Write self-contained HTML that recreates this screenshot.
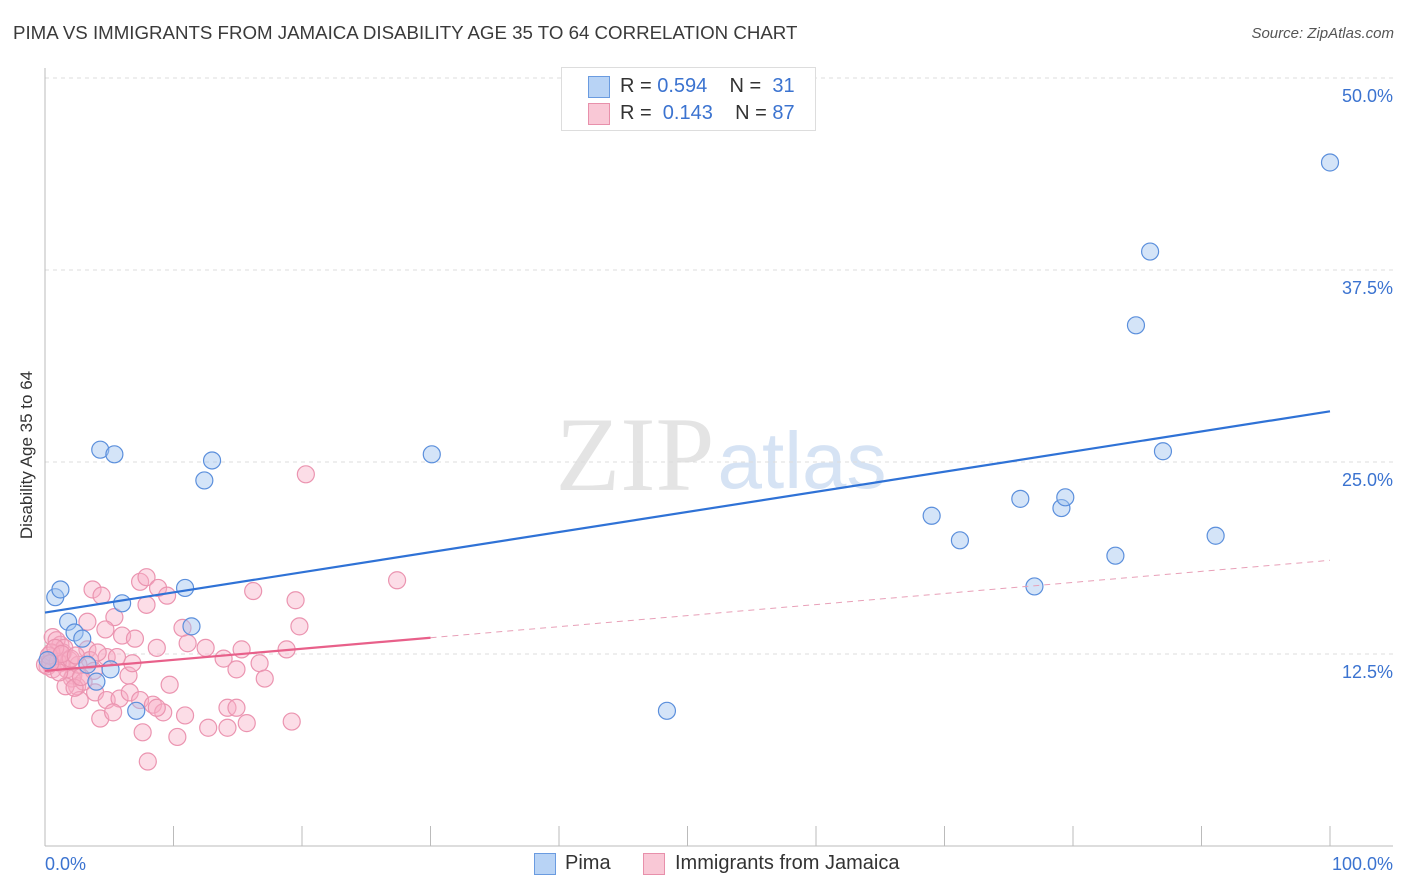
<!DOCTYPE html>
<html><head><meta charset="utf-8"><style>
body{margin:0;background:#fff;font-family:"Liberation Sans",sans-serif;}
#wrap{position:relative;width:1406px;height:892px;overflow:hidden}
.t{position:absolute;white-space:nowrap}
</style></head><body>
<div id="wrap">
<div class="t" style="left:13px;top:22px;font-size:18.7px;color:#3a3a3a">PIMA VS IMMIGRANTS FROM JAMAICA DISABILITY AGE 35 TO 64 CORRELATION CHART</div>
<div class="t" style="right:12px;top:25px;font-size:15px;color:#555;font-style:italic">Source: ZipAtlas.com</div>
<div class="t" style="left:27px;top:455px;font-size:17px;color:#333;transform:translate(-50%,-50%) rotate(-90deg)">Disability Age 35 to 64</div>
<svg id="plot" width="1406" height="892" style="position:absolute;left:0;top:0"></svg>
<div class="t" style="left:561px;top:67px;width:253px;height:62px;border:1px solid #ddd;background:#fff;font-size:20px;color:#333">
 <div style="position:absolute;left:26px;top:8px;width:20px;height:20px;background:#b8d3f5;border:1px solid #6a9be0"></div>
 <div class="t" style="left:58px;top:7px">R = <span style="color:#3b73d0">0.594</span>&nbsp;&nbsp;&nbsp; N = &nbsp;<span style="color:#3b73d0">31</span></div>
 <div style="position:absolute;left:26px;top:35px;width:20px;height:20px;background:#f9c8d6;border:1px solid #e890ab"></div>
 <div class="t" style="left:58px;top:34px">R = &nbsp;<span style="color:#3b73d0">0.143</span>&nbsp;&nbsp;&nbsp; N = <span style="color:#3b73d0">87</span></div>
</div>
<div style="position:absolute;left:534px;top:853px;width:20px;height:20px;background:#b8d3f5;border:1px solid #6a9be0"></div>
<div class="t" style="left:565px;top:852px;font-size:20px;color:#333">Pima</div>
<div style="position:absolute;left:643px;top:853px;width:20px;height:20px;background:#f9c8d6;border:1px solid #e890ab"></div>
<div class="t" style="left:675px;top:852px;font-size:20px;color:#333">Immigrants from Jamaica</div>
</div>
<script>
const yTicks=[12.5,25,37.5,50];
const yTickLabels=["12.5%","25.0%","37.5%","50.0%"];
const xTickLabels=["0.0%","100.0%"];
const pimaX=[0.8,1.2,1.8,2.3,2.9,3.3,4.0,4.3,5.1,5.4,6.0,7.1,10.9,11.4,12.4,13.0,30.1,48.4,69.0,71.2,75.9,77.0,79.1,79.4,83.3,84.9,86.0,87.0,91.1,100,0.2];
const pimaY=[16.2,16.7,14.6,13.9,13.5,11.8,10.7,25.8,11.5,25.5,15.8,8.8,16.8,14.3,23.8,25.1,25.5,8.8,21.5,19.9,22.6,16.9,22.0,22.7,18.9,33.9,38.7,25.7,20.2,44.5,12.1];
const jamX=[3.7,4.4,7.4,7.9,8.8,9.5,7.9,16.2,19.5,19.8,3.3,5.4,4.7,6.0,7.0,10.7,11.1,12.5,8.7,3.3,0.6,1.2,4.8,5.6,15.3,13.9,14.9,16.7,17.1,18.8,9.7,6.5,6.8,2.2,2.5,2.7,3.9,4.8,5.8,6.6,7.4,8.4,9.2,8.7,10.9,4.3,5.3,7.6,8.0,10.3,12.7,14.2,14.2,14.9,15.7,19.2,0.4,0.2,0.6,1.2,1.7,2.1,3.0,3.5,0.6,1.4,20.3,27.4,0.9,1.5,1.9,2.6,0.0,1.6,2.3,0.5,1.0,0.3,2.0,3.8,1.1,0.8,2.8,4.1,1.3,0.4,2.4];
const jamY=[16.7,16.3,17.2,17.5,16.8,16.3,15.7,16.6,16.0,14.3,14.6,14.9,14.1,13.7,13.5,14.2,13.2,12.9,12.9,12.8,13.6,13.1,12.3,12.3,12.8,12.2,11.5,11.9,10.9,12.8,10.5,11.1,11.9,11.1,10.4,9.5,10.0,9.5,9.6,10.0,9.5,9.2,8.7,9.0,8.5,8.3,8.7,7.4,5.5,7.1,7.7,7.7,9.0,9.0,8.0,8.1,12.1,11.7,12.3,11.9,11.5,10.9,10.7,12.1,11.5,12.6,24.2,17.3,13.4,12.9,12.1,11.8,11.8,10.4,10.3,12.6,12.0,12.4,12.2,11.4,11.3,12.9,11.0,12.6,12.5,11.9,12.4];
const pimaTrend=[15.2,28.3];
const jamTrend=[11.4,18.6];
const X0=45,X1=1330,YB=846,YT=78;
const sx=v=>X0+(X1-X0)*v/100;
const sy=v=>YB-(YB-YT)*v/50;
const NS="http://www.w3.org/2000/svg";
const svg=document.getElementById('plot');
function mk(t,a){const e=document.createElementNS(NS,t);for(const k in a)e.setAttribute(k,a[k]);svg.appendChild(e);return e;}
let w=mk('text',{x:635,y:490,'font-size':106,'font-family':'Liberation Serif,serif',fill:'#e4e4e4','text-anchor':'middle'});w.textContent='ZIP';


w=mk('text',{x:802,y:488,'font-size':80,'font-family':'Liberation Sans,sans-serif',fill:'#d6e3f4','text-anchor':'middle'});w.textContent='atlas';


yTicks.forEach((t,i)=>{
 const g=mk('line',{x1:X0,x2:1393,y1:sy(t),y2:sy(t),stroke:'#ddd','stroke-dasharray':'4,4'});
 
 
 const l=mk('text',{x:1393,y:sy(t)+24,'font-size':18,fill:'#3b73d0','text-anchor':'end','font-family':'Liberation Sans,sans-serif'});l.textContent=yTickLabels[i];
 
 
});
let ax=mk('line',{x1:X0,x2:X0,y1:68,y2:YB,stroke:'#bbb'});


ax=mk('line',{x1:X0,x2:1393,y1:YB,y2:YB,stroke:'#bbb'});


for(let i=0;i<=10;i++){const tk=mk('line',{x1:sx(i*10),x2:sx(i*10),y1:826,y2:YB,stroke:'#bbb'});
 
 }
[[0,'start',X0],[1,'end',1393]].forEach(([i,a,x])=>{const l=mk('text',{x:x,y:870,'font-size':18,fill:'#3b73d0','text-anchor':a,'font-family':'Liberation Sans,sans-serif'});l.textContent=xTickLabels[i];
 
 });
function dots(X,Y,fill,stroke,name){X.forEach((x,i)=>{const c=mk('circle',{cx:sx(x),cy:sy(Y[i]),r:8.5,fill:fill,stroke:stroke,'stroke-width':1.2});
 
 });}
dots(jamX,jamY,'rgba(248,175,198,0.42)','#eb94b0','jamaica-point');
dots(pimaX,pimaY,'rgba(160,196,240,0.45)','#5b8fdc','pima-point');
let tl=mk('line',{x1:sx(0),y1:sy(jamTrend[0]),x2:sx(30),y2:sy(jamTrend[0]+(jamTrend[1]-jamTrend[0])*0.3),stroke:'#e8608a','stroke-width':2.2});


tl=mk('line',{x1:sx(30),y1:sy(jamTrend[0]+(jamTrend[1]-jamTrend[0])*0.3),x2:sx(100),y2:sy(jamTrend[1]),stroke:'#e8a0b8','stroke-width':1,'stroke-dasharray':'6,5'});


tl=mk('line',{x1:sx(0),y1:sy(pimaTrend[0]),x2:sx(100),y2:sy(pimaTrend[1]),stroke:'#2f72d6','stroke-width':2.2});


</script>
</body></html>
